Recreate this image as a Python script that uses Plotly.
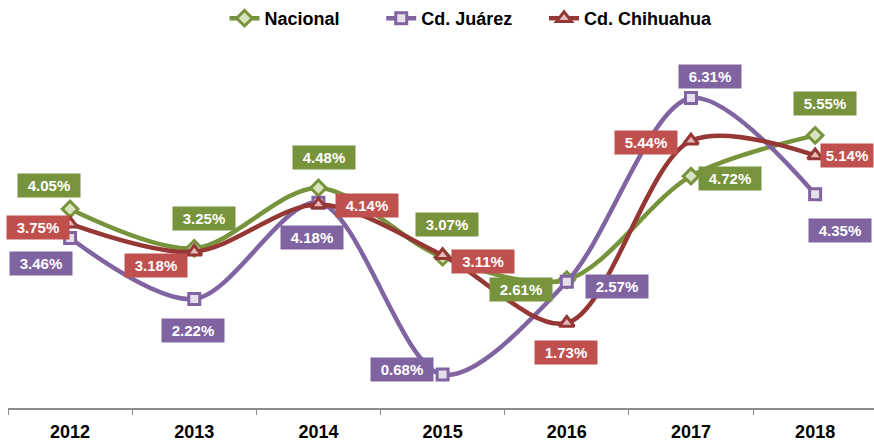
import plotly.graph_objects as go

years = ["2012", "2013", "2014", "2015", "2016", "2017", "2018"]
nacional = [4.05, 3.25, 4.48, 3.07, 2.61, 4.72, 5.55]
juarez = [3.46, 2.22, 4.18, 0.68, 2.57, 6.31, 4.35]
chihuahua = [3.75, 3.18, 4.14, 3.11, 1.73, 5.44, 5.14]

# label offsets (pixels) from each point: (dx, dy, box width) with dy positive upward
off_nacional = [(-21, 24, 58), (10, 30, 58), (6, 30, 58), (4, 33, 58), (-46, -10, 58), (39, -2, 58), (10, 32, 58)]
off_juarez = [(-29, -25, 58), (-1, -32, 58), (-6, -35, 58), (-41, 5, 58), (50, -5, 58), (19, 22, 58), (25, -36, 58)]
off_chihuahua = [(-32, -4, 58), (-38, -14, 58), (49, -1, 58), (40, -6, 58), (-1, -29, 58), (-45, -2, 58), (32, 0, 48)]

series = [
    ("Nacional", nacional, "#77933C", "#77933C", "#D7E4BD", "diamond", 12, off_nacional, "legend", 0.25),
    ("Cd. Juárez", juarez, "#8064A2", "#8064A2", "#E6E0EC", "square", 11, off_juarez, "legend2", 0.431),
    ("Cd. Chihuahua", chihuahua, "#953735", "#C0504D", "#E6B9B8", "triangle-up", 13, off_chihuahua, "legend3", 0.619),
]

fig = go.Figure()
legends = {}
for name, vals, col, boxcol, fill, sym, size, offs, leg, lx in series:
    fig.add_trace(go.Scatter(
        x=years, y=vals, name=f"<b>{name}</b>", mode="lines+markers",
        line=dict(color=col, width=4.5, shape="spline", smoothing=0.9),
        marker=dict(symbol=sym, size=size, color=fill,
                    line=dict(color=col, width=3)),
        legend=leg,
    ))
    legends[leg] = dict(orientation="h", x=lx, xanchor="left", y=0.99, yanchor="middle",
                        font=dict(family="Liberation Sans", size=18, color="black"),
                        bgcolor="rgba(0,0,0,0)")

for name, vals, col, boxcol, fill, sym, size, offs, leg, lx in series:
    for i, (v, (dx, dy, w)) in enumerate(zip(vals, offs)):
        fig.add_annotation(
            x=i, y=v, xref="x", yref="y", text=f"<b>{v:.2f}%</b>",
            showarrow=False, xshift=dx, yshift=dy,
            font=dict(family="Liberation Sans", size=15, color="white"),
            bgcolor=boxcol, width=w, height=19, borderpad=2,
        )

fig.update_layout(
    width=874, height=441,
    margin=dict(l=8, r=0, t=14, b=33),
    paper_bgcolor="white", plot_bgcolor="white",
    showlegend=True,
    **legends,
    xaxis=dict(type="category", range=[-0.5, 6.474], showgrid=False,
               showline=True, linecolor="#8C8C8C", linewidth=1.5,
               ticks="outside", tickson="boundaries", ticklen=5, tickcolor="#8C8C8C",
               tickvals=years, ticktext=[f"<b>{y}</b>" for y in years],
               tickfont=dict(family="Liberation Sans", size=18, color="black"),
               ticklabelstandoff=7,
               zeroline=False),
    yaxis=dict(range=[0, 8], visible=False, showgrid=False, zeroline=False),
)

fig.write_html("out.html")
